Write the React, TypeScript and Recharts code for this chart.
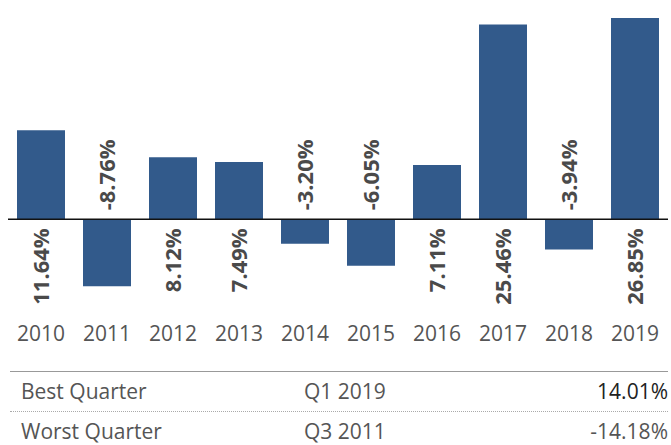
import { BarChart, Bar, XAxis, YAxis, ReferenceLine, LabelList } from 'recharts';

const years = ['2010', '2011', '2012', '2013', '2014', '2015', '2016', '2017', '2018', '2019'];
const returns = [11.64, -8.76, 8.12, 7.49, -3.2, -6.05, 7.11, 25.46, -3.94, 26.85];

const quarterLabels = ['Best Quarter', 'Worst Quarter'];
const quarterPeriods = ['Q1 2019', 'Q3 2011'];
const quarterValues = ['14.01%', '-14.18%'];

const BAR_COLOR = '#325a8b';
const TEXT_GRAY = '#555555';

const data = years.map((year, i) => ({ year, value: returns[i] }));

// value labels sit on the other side of the zero line from the bar
const renderValueLabel = (props: any) => {
  const vb = props.viewBox || {};
  const x = props.x ?? vb.x;
  const y = props.y ?? vb.y;
  const width = props.width ?? vb.width;
  const height = props.height ?? vb.height;
  const value = Number(props.value);
  const cx = x + width / 2;
  const zeroY = value >= 0 ? y + height : height < 0 ? y + height : y;
  const ty = value >= 0 ? zeroY + 9 : zeroY - 9;
  return (
    <text
      x={cx}
      y={ty}
      dy="0.36em"
      transform={`rotate(-90 ${cx} ${ty})`}
      textAnchor={value >= 0 ? 'end' : 'start'}
      fill="#4a4a4a"
      fontSize={22}
      fontWeight={700}
      fontFamily="'Open Sans', sans-serif"
    >
      {value.toFixed(2)}%
    </text>
  );
};

const YearTick = (props: any) => {
  const { x, y, payload } = props;
  return (
    <text x={x} y={y + 26} textAnchor="middle" fill={TEXT_GRAY} fontSize={21} fontFamily="'Open Sans', sans-serif">
      {payload.value}
    </text>
  );
};

export default function App() {
  return (
    <div style={{ position: 'absolute', left: 0, top: 0, width: 671, height: 445, background: '#fff', overflow: 'hidden' }}>
      <BarChart width={671} height={362} data={data} margin={{ top: 18, right: 3, bottom: 0, left: 8 }} barSize={48}>
        <XAxis dataKey="year" axisLine={false} tickLine={false} tickSize={0} tickMargin={0} height={47} interval={0} tick={<YearTick />} />
        <YAxis hide domain={[-12.5, 26.3]} allowDataOverflow />
        <ReferenceLine y={0} stroke="#111" strokeWidth={1.5} />
        <Bar dataKey="value" fill={BAR_COLOR} isAnimationActive={false}>
          <LabelList dataKey="value" content={renderValueLabel} />
        </Bar>
      </BarChart>
      <div
        style={{
          position: 'absolute',
          left: 10,
          top: 371,
          width: 658,
          borderTop: '1.5px solid #999',
          fontFamily: "'Open Sans', sans-serif",
          fontSize: 21,
          color: TEXT_GRAY,
        }}
      >
        {quarterLabels.map((label, i) => (
          <div
            key={label}
            style={{
              position: 'relative',
              height: 39,
              lineHeight: '39px',
              borderBottom: i === 0 ? '1.5px dotted #aaa' : 'none',
            }}
          >
            <span style={{ position: 'absolute', left: 11 }}>{label}</span>
            <span style={{ position: 'absolute', left: 294 }}>{quarterPeriods[i]}</span>
            <span style={{ position: 'absolute', right: 0, color: i === 0 ? '#222' : TEXT_GRAY }}>{quarterValues[i]}</span>
          </div>
        ))}
      </div>
    </div>
  );
}
